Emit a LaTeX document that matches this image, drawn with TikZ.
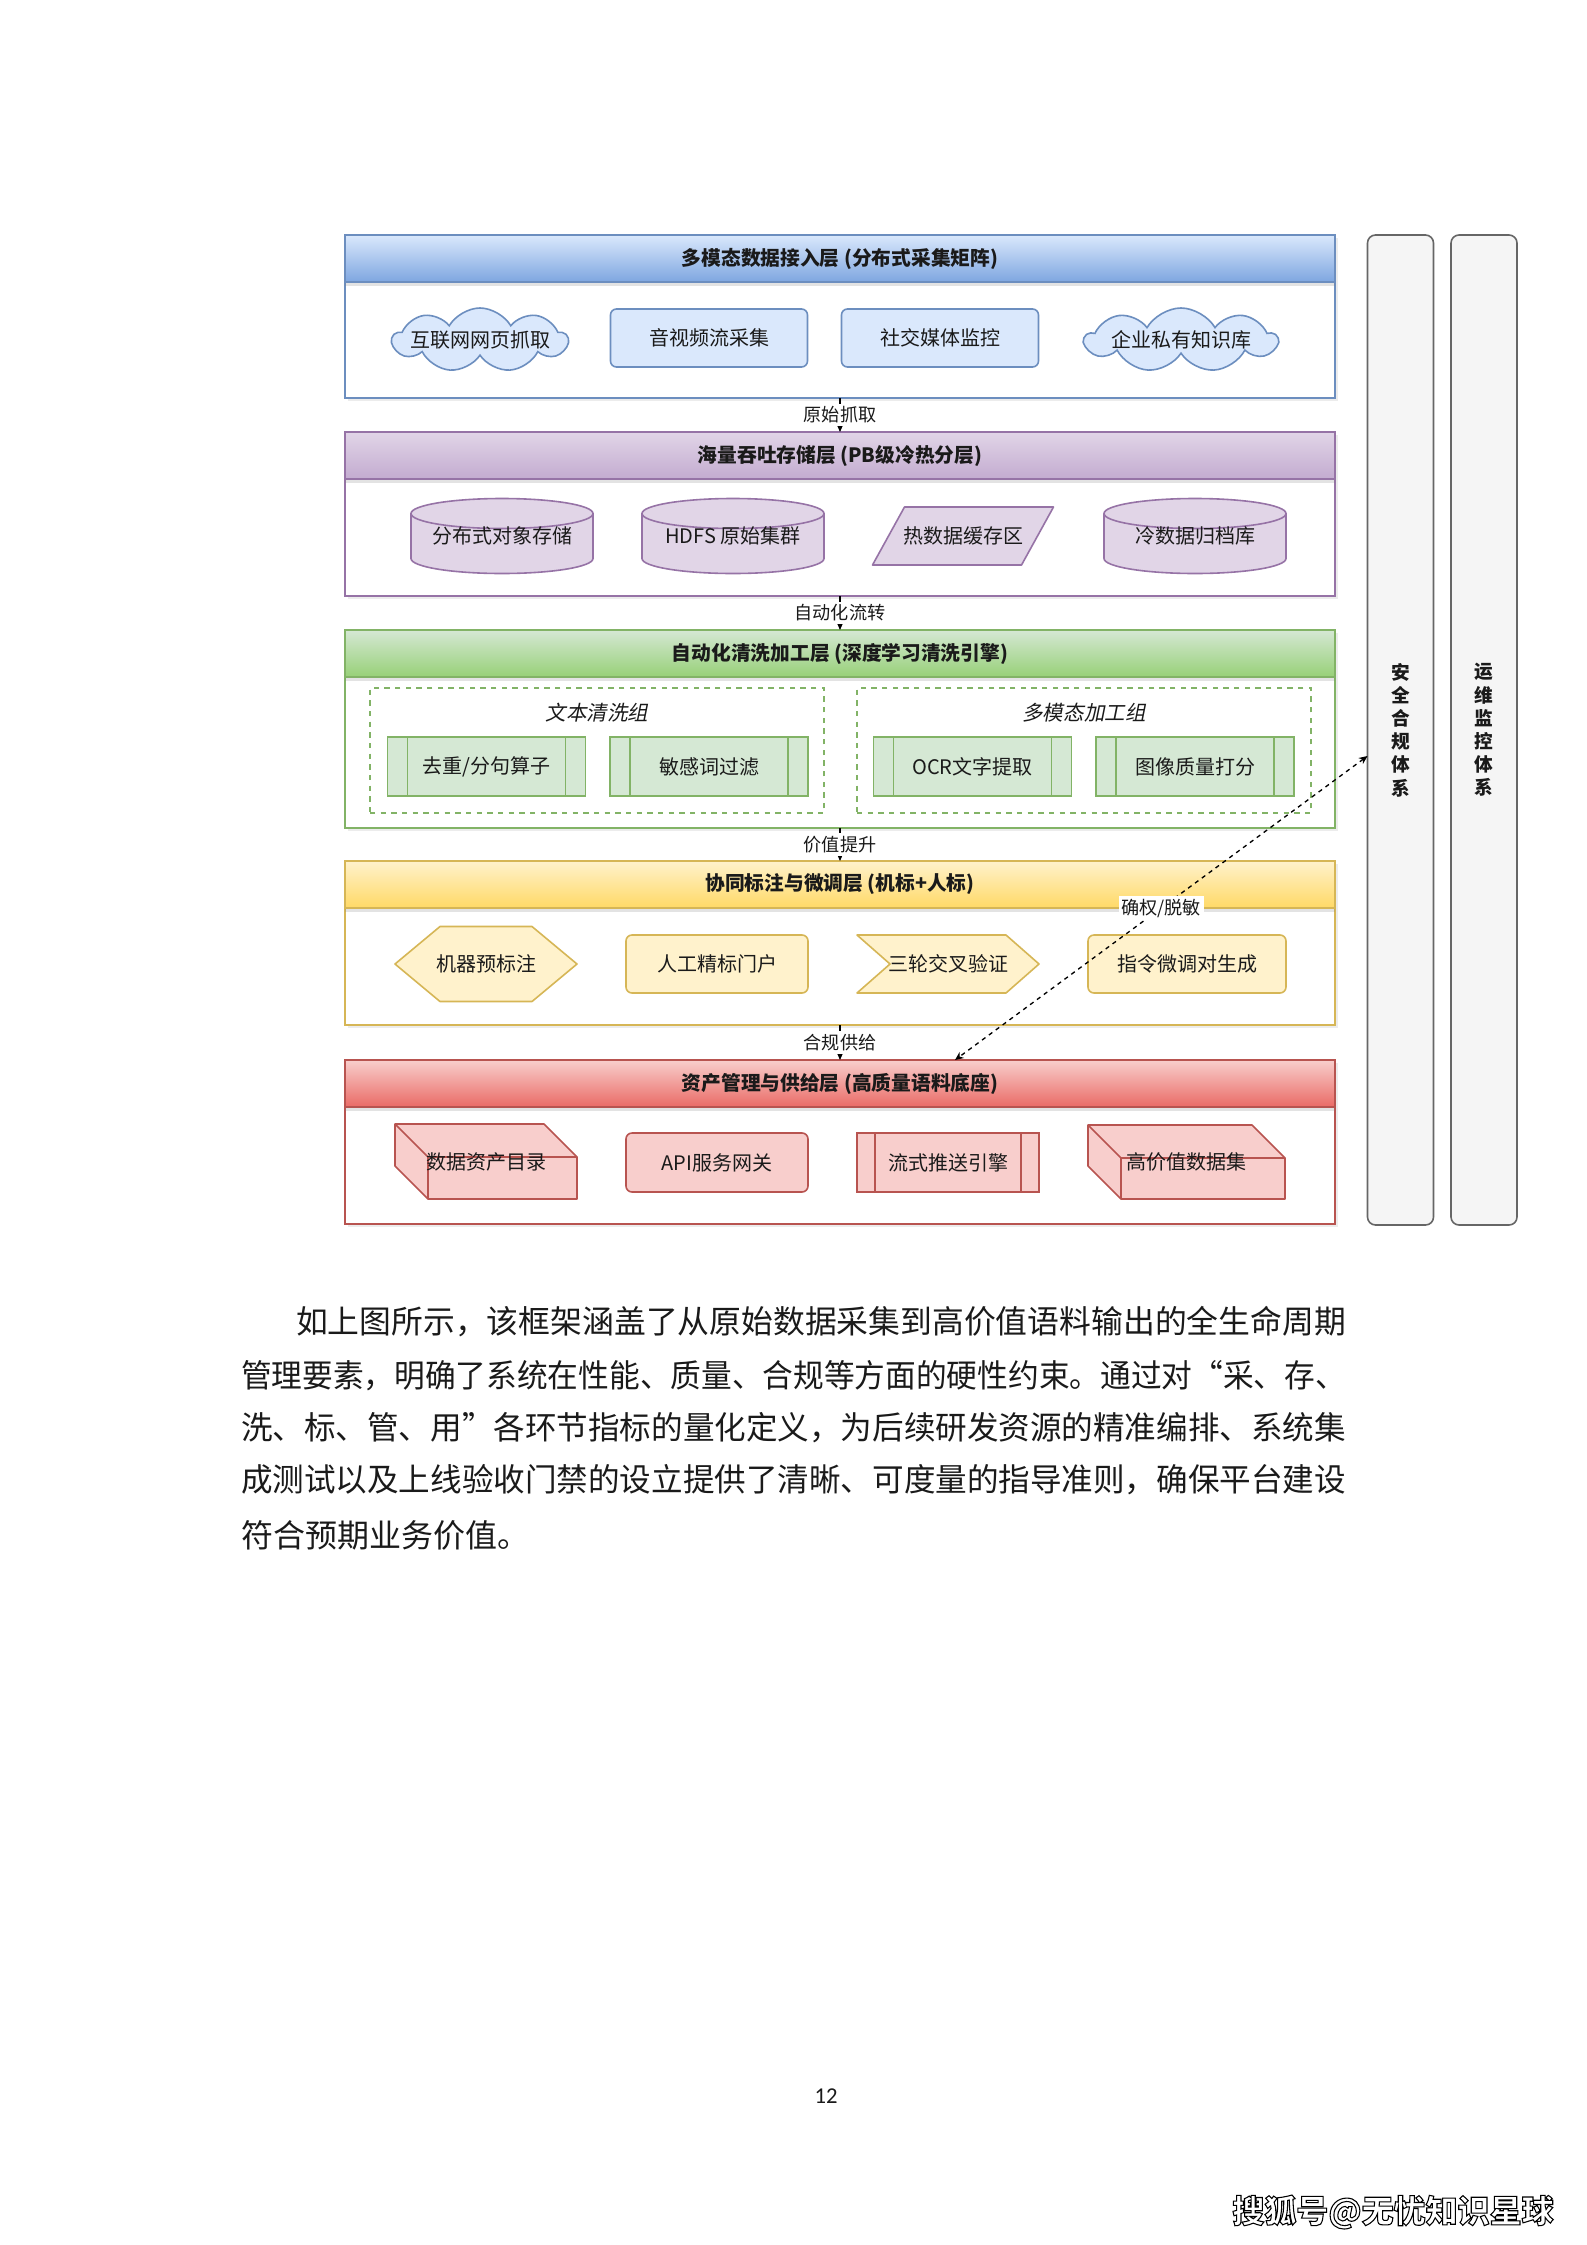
\documentclass[tikz,border=0pt]{standalone}
\usepackage{fontspec}
\usepackage{graphicx}
\setmainfont{Noto Sans CJK SC}
\newfontfamily\slantcjk[FakeSlant=0.2]{Noto Sans CJK SC}
\newfontfamily\numfont{Carlito}
\usetikzlibrary{shapes.symbols,shadows,arrows.meta}
\newlength{\pu}
\setlength{\pu}{0.375pt}
\definecolor{bS}{HTML}{6C8EBF}
\definecolor{bF}{HTML}{DAE8FC}
\definecolor{bG}{HTML}{7EA6E0}
\definecolor{pS}{HTML}{9673A6}
\definecolor{pF}{HTML}{E1D5E7}
\definecolor{pG}{HTML}{C3ABD0}
\definecolor{gS}{HTML}{82B366}
\definecolor{gF}{HTML}{D5E8D4}
\definecolor{gG}{HTML}{97D077}
\definecolor{yS}{HTML}{D6B656}
\definecolor{yF}{HTML}{FFF2CC}
\definecolor{yG}{HTML}{FFD966}
\definecolor{rS}{HTML}{B85450}
\definecolor{rF}{HTML}{F8CECC}
\definecolor{rG}{HTML}{EA6B66}
\definecolor{sideF}{HTML}{F5F5F5}
\definecolor{sideS}{HTML}{666666}
\definecolor{txt}{HTML}{1A1A1A}
\pgfdeclarelayer{back}
\pgfdeclarelayer{mid}
\pgfsetlayers{back,mid,main}
\newcommand\cylshape[3]{%
  \begin{pgfonlayer}{mid}
  \draw[draw=#2,fill=#3,line width=0.6pt] ([yshift=-15\pu]#1.north west) -- ([yshift=15\pu]#1.south west)
    arc[start angle=180,end angle=360,x radius=91\pu,y radius=15\pu]
    -- ([yshift=-15\pu]#1.north east)
    arc[start angle=0,end angle=180,x radius=91\pu,y radius=15\pu] -- cycle;
  \draw[draw=#2,line width=0.6pt] ([yshift=-15\pu]#1.north west)
    arc[start angle=180,end angle=360,x radius=91\pu,y radius=15\pu];
  \end{pgfonlayer}}
\newcommand\cubeshape[3]{%
  \begin{pgfonlayer}{mid}
  \draw[draw=#2,fill=#3,line width=0.6pt,line join=round] (#1.north west) -- ([xshift=-33\pu]#1.north east)
    -- ([yshift=-33\pu]#1.north east) -- (#1.south east) -- ([xshift=33\pu]#1.south west)
    -- ([yshift=33\pu]#1.south west) -- cycle;
  \draw[draw=#2,line width=0.6pt,line join=round] (#1.north west) -- ([xshift=33\pu,yshift=-33\pu]#1.north west)
    -- ([yshift=-33\pu]#1.north east)
    ([xshift=33\pu,yshift=-33\pu]#1.north west) -- ([xshift=33\pu]#1.south west);
  \end{pgfonlayer}}
\newcommand\procbars[3]{%
  \draw[draw=#2,line width=0.6pt] ([xshift=#3]#1.north west) -- ([xshift=#3]#1.south west)
    ([xshift=-#3]#1.north east) -- ([xshift=-#3]#1.south east);}
\begin{document}
\begin{tikzpicture}[x=0.375pt,y=-0.375pt,
  every node/.style={inner sep=0pt,outer sep=0pt,text=txt},
  lw/.style={line width=0.6pt},
  layerbody/.style={draw=#1,lw,fill=white,minimum width=990\pu,drop shadow={opacity=0.15,shadow xshift=1.2pt,shadow yshift=-1.2pt}},
  header/.style n args={3}{draw=#1,lw,top color=#2,bottom color=#3,minimum width=990\pu,minimum height=47\pu,font=\fontsize{7.4}{9}\selectfont\bfseries,drop shadow={opacity=0.22,shadow xshift=0pt,shadow yshift=-1.5pt}},
  ntext/.style={font=\fontsize{7.5}{9}\selectfont},
  rbox/.style n args={2}{ntext,draw=#1,fill=#2,lw,rounded corners=6\pu,minimum height=58\pu},
  procbox/.style n args={2}{ntext,draw=#1,fill=#2,lw,minimum height=59\pu},
  plainbox/.style={ntext},
  cloudbox/.style n args={2}{cloud,cloud puffs=9,cloud puff arc=120,draw=#1,fill=#2,lw,minimum height=64\pu},
  shp/.style n args={2}{draw=#1,fill=#2,lw,line join=round},
  grp/.style={draw=gS,lw,dash pattern=on 2pt off 2pt},
  gtitle/.style={font=\slantcjk\fontsize{7.7}{9}\selectfont},
  lbl/.style={font=\fontsize{6.8}{8}\selectfont,fill=white,inner sep=1pt},
  conn/.style={line width=0.6pt,-{Stealth[length=3pt,width=2.6pt]}},
  dconn/.style={line width=0.5pt,dash pattern=on 1.6pt off 1.6pt,{Stealth[length=3.2pt,width=2.8pt]}-{Stealth[length=3.2pt,width=2.8pt]}},
  side/.style={draw=sideS,fill=sideF,lw,rounded corners=8\pu,minimum width=66\pu,minimum height=990\pu,align=center,font=\fontsize{7}{8.7}\selectfont\bfseries},
  bodyline/.style={anchor=west,font=\fontsize{12}{14}\selectfont}
]
\useasboundingbox (0,0) rectangle (1587,2245);
\begin{pgfonlayer}{back}
\fill[white] (0,0) rectangle (1587,2245);
% layers
\node[layerbody=bS,minimum height=163\pu] (L1) at (840,316.5) {};
\node[header={bS}{bF}{bG}] (H1) at (840,258.5) {多模态数据接入层 (分布式采集矩阵)};
\node[layerbody=pS,minimum height=164\pu] (L2) at (840,514) {};
\node[header={pS}{pF}{pG}] (H2) at (840,455.5) {海量吞吐存储层 (PB级冷热分层)};
\node[layerbody=gS,minimum height=198\pu] (L3) at (840,729) {};
\node[header={gS}{gF}{gG}] (H3) at (840,653.5) {自动化清洗加工层 (深度学习清洗引擎)};
\node[layerbody=yS,minimum height=164\pu] (L4) at (840,943) {};
\node[header={yS}{yF}{yG}] (H4) at (840,884.5) {协同标注与微调层 (机标+人标)};
\node[layerbody=rS,minimum height=164\pu] (L5) at (840,1142) {};
\node[header={rS}{rF}{rG}] (H5) at (840,1083.5) {资产管理与供给层 (高质量语料底座)};
% side columns
\node[side] (S1) at (1400.5,730) {安\\全\\合\\规\\体\\系};
\node[side] (S2) at (1484,730) {运\\维\\监\\控\\体\\系};
\end{pgfonlayer}

% ---- Layer 1 nodes
\begin{pgfonlayer}{mid}
\node[cloudbox={bS}{bF},minimum width=175\pu] (c11) at (480,340) {};
\node[cloudbox={bS}{bF},minimum width=192\pu] (c14) at (1181,340) {};
\end{pgfonlayer}
\node[plainbox] (n11) at (480,340) {互联网网页抓取};
\node[rbox={bS}{bF},minimum width=197\pu] (n12) at (709,338) {音视频流采集};
\node[rbox={bS}{bF},minimum width=197\pu] (n13) at (940,338) {社交媒体监控};
\node[plainbox] (n14) at (1181,340) {企业私有知识库};

% ---- Layer 2 nodes
\node[plainbox,minimum width=182\pu,minimum height=75\pu] (n21) at (502,536) {分布式对象存储};
\cylshape{n21}{pS}{pF}
\node[plainbox,minimum width=182\pu,minimum height=75\pu] (n22) at (733,536) {HDFS 原始集群};
\cylshape{n22}{pS}{pF}
\node[plainbox,minimum width=181\pu,minimum height=58\pu] (n23) at (963,536) {热数据缓存区};
\begin{pgfonlayer}{mid}
\draw[shp={pS}{pF}] ([xshift=32\pu]n23.north west) -- (n23.north east) -- ([xshift=-32\pu]n23.south east) -- (n23.south west) -- cycle;
\end{pgfonlayer}
\node[plainbox,minimum width=182\pu,minimum height=75\pu] (n24) at (1195,536) {冷数据归档库};
\cylshape{n24}{pS}{pF}

% ---- Layer 3 nodes
\node[grp,minimum width=454\pu,minimum height=125\pu] (G1) at (597,750.5) {};
\node[grp,minimum width=454\pu,minimum height=125\pu] (G2) at (1084,750.5) {};
\node[gtitle] (G1t) at (597,713) {文本清洗组};
\node[gtitle] (G2t) at (1084,713) {多模态加工组};
\node[procbox={gS}{gF},minimum width=198\pu] (n31) at (486.5,766.5) {去重/分句算子};
\procbars{n31}{gS}{20\pu}
\node[procbox={gS}{gF},minimum width=198\pu] (n32) at (709,766.5) {敏感词过滤};
\procbars{n32}{gS}{20\pu}
\node[procbox={gS}{gF},minimum width=198\pu] (n33) at (972.5,766.5) {OCR文字提取};
\procbars{n33}{gS}{20\pu}
\node[procbox={gS}{gF},minimum width=198\pu] (n34) at (1195,766.5) {图像质量打分};
\procbars{n34}{gS}{20\pu}

% ---- Layer 4 nodes
\node[plainbox,minimum width=182\pu,minimum height=75\pu] (n41) at (486,964) {机器预标注};
\begin{pgfonlayer}{mid}
\draw[shp={yS}{yF}] ([xshift=45\pu]n41.north west) -- ([xshift=-45\pu]n41.north east) -- (n41.east)
  -- ([xshift=-45\pu]n41.south east) -- ([xshift=45\pu]n41.south west) -- (n41.west) -- cycle;
\end{pgfonlayer}
\node[rbox={yS}{yF},minimum width=182\pu] (n42) at (717,964) {人工精标门户};
\node[plainbox,minimum width=182\pu,minimum height=58\pu] (n43) at (948,964) {三轮交叉验证};
\begin{pgfonlayer}{mid}
\draw[shp={yS}{yF}] (n43.north west) -- ([xshift=-33\pu]n43.north east) -- (n43.east)
  -- ([xshift=-33\pu]n43.south east) -- (n43.south west) -- ([xshift=33\pu]n43.west) -- cycle;
\end{pgfonlayer}
\node[rbox={yS}{yF},minimum width=198\pu] (n44) at (1187,964) {指令微调对生成};

% ---- Layer 5 nodes
\node[plainbox,minimum width=182\pu,minimum height=75\pu] (n51) at (486,1161.5) {数据资产目录};
\cubeshape{n51}{rS}{rF}
\node[rbox={rS}{rF},minimum width=182\pu,minimum height=59\pu] (n52) at (717,1162.5) {API服务网关};
\node[procbox={rS}{rF},minimum width=182\pu] (n53) at (948,1162.5) {流式推送引擎};
\procbars{n53}{rS}{18\pu}
\node[plainbox,minimum width=197\pu,minimum height=74\pu] (n54) at (1186.5,1162) {高价值数据集};
\cubeshape{n54}{rS}{rF}

% ---- connectors
\draw[conn] (L1.south) -- node[lbl] (e1) {原始抓取} (L2.north);
\draw[conn] (L2.south) -- node[lbl] (e2) {自动化流转} (L3.north);
\draw[conn] (L3.south) -- node[lbl] (e3) {价值提升} (L4.north);
\draw[conn] (L4.south) -- node[lbl] (e4) {合规供给} (L5.north);
\draw[dconn] ([yshift=-26\pu]S1.west) -- node[lbl] (e5) {确权/脱敏} ([xshift=115\pu]H5.north);

% ---- body text
\node[bodyline] (p1) at (296,1322) {\resizebox{1050\pu}{\height}{如上图所示，该框架涵盖了从原始数据采集到高价值语料输出的全生命周期}};
\node[bodyline] (p2) at (241,1376) {\resizebox{1105\pu}{\height}{管理要素，明确了系统在性能、质量、合规等方面的硬性约束。通过对“采、存、}};
\node[bodyline] (p3) at (241,1428) {\resizebox{1105\pu}{\height}{洗、标、管、用”各环节指标的量化定义，为后续研发资源的精准编排、系统集}};
\node[bodyline] (p4) at (241,1480) {\resizebox{1105\pu}{\height}{成测试以及上线验收门禁的设立提供了清晰、可度量的指导准则，确保平台建设}};
\node[bodyline] (p5) at (241,1535) {符合预期业务价值。};

% ---- page number and source mark
\node[font=\numfont\fontsize{8.5}{10}\selectfont] (pg) at (826,2096) {12};
\node[font=\fontsize{12}{14}\selectfont\bfseries] (wm) at (1393,2212) {{\color{white}\special{pdf:literal direct 2 Tr 0.4 w 0 G}搜狐号@无忧知识星球\special{pdf:literal direct 0 Tr}}};
\end{tikzpicture}
\end{document}
